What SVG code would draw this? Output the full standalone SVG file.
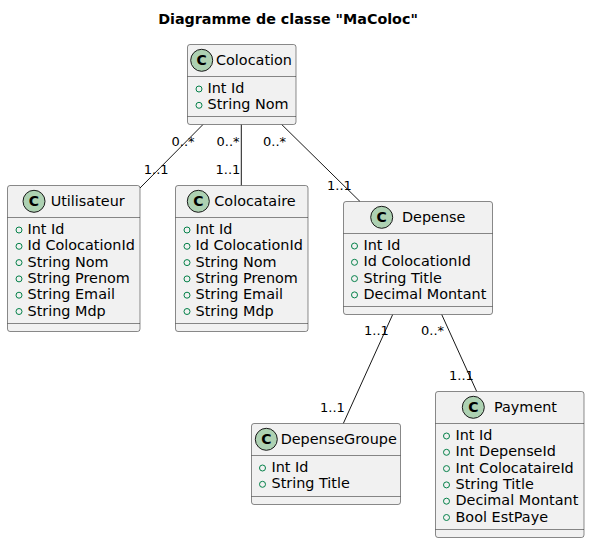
<svg xmlns="http://www.w3.org/2000/svg" width="590" height="543" viewBox="0 0 590 543">
<style>
text{font-family:"DejaVu Sans","Liberation Sans",sans-serif;fill:#000}
.box{fill:#F1F1F1;stroke:#181818;stroke-width:0.5}
.sep{stroke:#181818;stroke-width:0.5}
.ic{fill:#ADD1B2;stroke:#181818;stroke-width:1}
.icl{font-size:14px;font-weight:bold;text-anchor:middle}
.nm{font-size:14.4px}
.at{font-size:14.4px}
.pub{fill:none;stroke:#038048;stroke-width:1}
.lbl{font-size:13px}
.ln{stroke:#181818;stroke-width:1;fill:none}
.title{font-size:14.3px;font-weight:bold;text-anchor:middle}
</style>
<text class="title" x="288" y="24">Diagramme de classe "MaColoc"</text>

<g id="connectors">
<path class="ln" d="M203,124.5 L140,188"/>
<text class="lbl" x="171.5" y="146">0..*</text>
<text class="lbl" x="143.8" y="174">1..1</text>
<path class="ln" d="M241.3,124.5 L241.3,185.5"/>
<text class="lbl" x="216.5" y="146">0..*</text>
<text class="lbl" x="215.5" y="174">1..1</text>
<path class="ln" d="M281.7,124.5 L360,201.5"/>
<text class="lbl" x="263" y="146">0..*</text>
<text class="lbl" x="327" y="190">1..1</text>
<path class="ln" d="M392.7,314.5 L343.3,423.5"/>
<text class="lbl" x="364" y="335">1..1</text>
<text class="lbl" x="320" y="412">1..1</text>
<path class="ln" d="M441.7,314.5 L476.7,391.5"/>
<text class="lbl" x="421" y="335">0..*</text>
<text class="lbl" x="449" y="380">1..1</text>
</g>

<g id="Colocation">
<rect class="box" x="187.5" y="44.5" width="108.5" height="80" rx="2.5"/>
<circle class="ic" cx="201.7" cy="60.3" r="11"/>
<text class="icl" x="201.7" y="65.3">C</text>
<text class="nm" x="216" y="65">Colocation</text>
<line class="sep" x1="187.5" y1="76.5" x2="296" y2="76.5"/>
<circle class="pub" cx="199" cy="89" r="3"/><text class="at" x="207.5" y="93">Int Id</text>
<circle class="pub" cx="199" cy="105.3" r="3"/><text class="at" x="207.5" y="109.3">String Nom</text>
<line class="sep" x1="187.5" y1="116.5" x2="296" y2="116.5"/>
</g>

<g id="Utilisateur">
<rect class="box" x="7.5" y="185.5" width="132.5" height="146" rx="2.5"/>
<circle class="ic" cx="34" cy="201.3" r="11"/>
<text class="icl" x="34" y="206.3">C</text>
<text class="nm" x="50.7" y="206">Utilisateur</text>
<line class="sep" x1="7.5" y1="217.5" x2="140" y2="217.5"/>
<circle class="pub" cx="19" cy="230" r="3"/><text class="at" x="27.5" y="234">Int Id</text>
<circle class="pub" cx="19" cy="246.3" r="3"/><text class="at" x="27.5" y="250.3">Id ColocationId</text>
<circle class="pub" cx="19" cy="262.6" r="3"/><text class="at" x="27.5" y="266.6">String Nom</text>
<circle class="pub" cx="19" cy="278.9" r="3"/><text class="at" x="27.5" y="282.9">String Prenom</text>
<circle class="pub" cx="19" cy="295.2" r="3"/><text class="at" x="27.5" y="299.2">String Email</text>
<circle class="pub" cx="19" cy="311.5" r="3"/><text class="at" x="27.5" y="315.5">String Mdp</text>
<line class="sep" x1="7.5" y1="323.5" x2="140" y2="323.5"/>
</g>

<g id="Colocataire">
<rect class="box" x="175.5" y="185.5" width="132.5" height="146" rx="2.5"/>
<circle class="ic" cx="198.3" cy="201.3" r="11"/>
<text class="icl" x="198.3" y="206.3">C</text>
<text class="nm" x="214.3" y="206">Colocataire</text>
<line class="sep" x1="175.5" y1="217.5" x2="308" y2="217.5"/>
<circle class="pub" cx="187" cy="230" r="3"/><text class="at" x="195.5" y="234">Int Id</text>
<circle class="pub" cx="187" cy="246.3" r="3"/><text class="at" x="195.5" y="250.3">Id ColocationId</text>
<circle class="pub" cx="187" cy="262.6" r="3"/><text class="at" x="195.5" y="266.6">String Nom</text>
<circle class="pub" cx="187" cy="278.9" r="3"/><text class="at" x="195.5" y="282.9">String Prenom</text>
<circle class="pub" cx="187" cy="295.2" r="3"/><text class="at" x="195.5" y="299.2">String Email</text>
<circle class="pub" cx="187" cy="311.5" r="3"/><text class="at" x="195.5" y="315.5">String Mdp</text>
<line class="sep" x1="175.5" y1="323.5" x2="308" y2="323.5"/>
</g>

<g id="Depense">
<rect class="box" x="343.5" y="201.5" width="149" height="113" rx="2.5"/>
<circle class="ic" cx="381.7" cy="217.3" r="11"/>
<text class="icl" x="381.7" y="222.3">C</text>
<text class="nm" x="402" y="222">Depense</text>
<line class="sep" x1="343.5" y1="233.5" x2="492.5" y2="233.5"/>
<circle class="pub" cx="354.5" cy="246" r="3"/><text class="at" x="363.5" y="250">Int Id</text>
<circle class="pub" cx="354.5" cy="262.3" r="3"/><text class="at" x="363.5" y="266.3">Id ColocationId</text>
<circle class="pub" cx="354.5" cy="278.6" r="3"/><text class="at" x="363.5" y="282.6">String Title</text>
<circle class="pub" cx="354.5" cy="294.9" r="3"/><text class="at" x="363.5" y="298.9">Decimal Montant</text>
<line class="sep" x1="343.5" y1="306.5" x2="492.5" y2="306.5"/>
</g>

<g id="DepenseGroupe">
<rect class="box" x="251.5" y="423.5" width="149" height="81" rx="2.5"/>
<circle class="ic" cx="266.3" cy="439.3" r="11"/>
<text class="icl" x="266.3" y="444.3">C</text>
<text class="nm" x="280.7" y="444">DepenseGroupe</text>
<line class="sep" x1="251.5" y1="455.5" x2="400.5" y2="455.5"/>
<circle class="pub" cx="262.5" cy="468" r="3"/><text class="at" x="271.5" y="472">Int Id</text>
<circle class="pub" cx="262.5" cy="484.3" r="3"/><text class="at" x="271.5" y="488.3">String Title</text>
<line class="sep" x1="251.5" y1="496.5" x2="400.5" y2="496.5"/>
</g>

<g id="Payment">
<rect class="box" x="435.5" y="391.5" width="148.5" height="146" rx="2.5"/>
<circle class="ic" cx="473.3" cy="407.3" r="11"/>
<text class="icl" x="473.3" y="412.3">C</text>
<text class="nm" x="494" y="412">Payment</text>
<line class="sep" x1="435.5" y1="423.5" x2="584" y2="423.5"/>
<circle class="pub" cx="446.5" cy="436" r="3"/><text class="at" x="455.5" y="440">Int Id</text>
<circle class="pub" cx="446.5" cy="452.3" r="3"/><text class="at" x="455.5" y="456.3">Int DepenseId</text>
<circle class="pub" cx="446.5" cy="468.6" r="3"/><text class="at" x="455.5" y="472.6">Int ColocataireId</text>
<circle class="pub" cx="446.5" cy="484.9" r="3"/><text class="at" x="455.5" y="488.9">String Title</text>
<circle class="pub" cx="446.5" cy="501.2" r="3"/><text class="at" x="455.5" y="505.2">Decimal Montant</text>
<circle class="pub" cx="446.5" cy="517.5" r="3"/><text class="at" x="455.5" y="521.5">Bool EstPaye</text>
<line class="sep" x1="435.5" y1="529.5" x2="584" y2="529.5"/>
</g>
</svg>
